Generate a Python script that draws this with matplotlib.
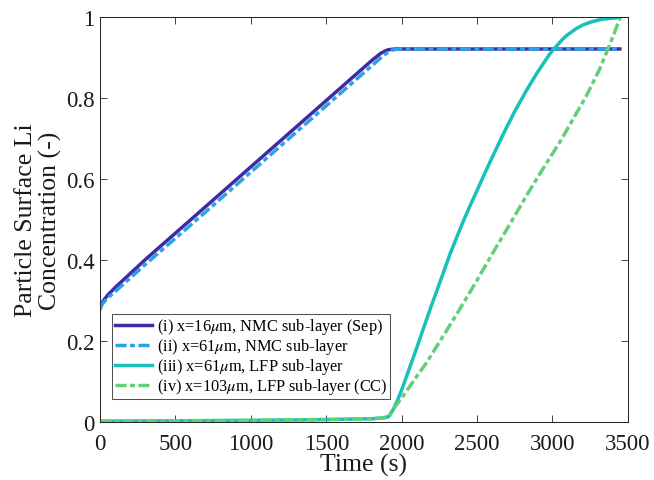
import matplotlib
matplotlib.use("Agg")
import matplotlib.pyplot as plt

plt.rcParams['font.family'] = ['Liberation Serif', 'DejaVu Serif']
plt.rcParams['mathtext.fontset'] = 'stix'

# (i) x=16um, NMC sub-layer next to separator
t_nmc_sep = [0, 10, 25, 50, 100, 300, 600, 1000, 1400, 1800, 1860, 1890,
             1910, 1930, 1960, 2000, 2500, 3000, 3447]
c_nmc_sep = [0.280, 0.291, 0.301, 0.313, 0.332, 0.401, 0.499, 0.630, 0.761,
             0.892, 0.910, 0.916, 0.919, 0.920, 0.921, 0.921, 0.921, 0.921, 0.921]

# (ii) x=61um, NMC sub-layer
t_nmc_mid = [0, 10, 25, 50, 100, 300, 600, 1000, 1400, 1800, 1870, 1910,
             1935, 1960, 2000, 2500, 3000, 3447]
c_nmc_mid = [0.280, 0.288, 0.296, 0.306, 0.322, 0.389, 0.486, 0.617, 0.748,
             0.879, 0.902, 0.913, 0.918, 0.920, 0.921, 0.921, 0.921, 0.921]

# (iii) x=61um, LFP sub-layer
t_lfp_mid = [0, 500, 1000, 1500, 1800, 1880, 1910, 1920, 1950, 1980, 2011,
             2050, 2100, 2166, 2200, 2250, 2320, 2400, 2450, 2497, 2550, 2600,
             2674, 2750, 2800, 2828, 2900, 2983, 3000, 3070, 3100, 3160, 3200,
             3250, 3300, 3340, 3400, 3447]
c_lfp_mid = [0.002, 0.003, 0.004, 0.006, 0.008, 0.010, 0.013, 0.016, 0.035,
             0.060, 0.090, 0.131, 0.183, 0.254, 0.290, 0.341, 0.414, 0.488,
             0.531, 0.569, 0.613, 0.653, 0.711, 0.767, 0.800, 0.819, 0.863,
             0.909, 0.917, 0.946, 0.956, 0.972, 0.980, 0.987, 0.992, 0.995,
             0.997, 0.999]

# (iv) x=103um, LFP sub-layer next to current collector
t_lfp_cc = [0, 500, 1000, 1500, 1800, 1880, 1915, 1944, 2000, 2080, 2166,
            2280, 2386, 2500, 2607, 2720, 2828, 2940, 3049, 3140, 3226, 3314,
            3359, 3410, 3447]
c_lfp_cc = [0.002, 0.003, 0.004, 0.006, 0.008, 0.010, 0.014, 0.032, 0.059,
            0.102, 0.147, 0.215, 0.279, 0.350, 0.419, 0.490, 0.559, 0.627,
            0.691, 0.750, 0.806, 0.872, 0.913, 0.960, 0.997]

labels = [r"(i) x=16$\mu$m, NMC sub-layer (Sep)",
          r"(ii) x=61$\mu$m, NMC sub-layer",
          r"(iii) x=61$\mu$m, LFP sub-layer",
          r"(iv) x=103$\mu$m, LFP sub-layer (CC)"]
colors = ["#3F2AA8", "#2AA2E6", "#18C0BC", "#62CF7A"]
dashdot = (0, (3.2, 1.0, 1.4, 1.0))

fig = plt.figure(figsize=(6.54, 4.81), dpi=100)
ax = fig.add_axes([0.153, 0.1206, 0.807, 0.842])

lw = 2.5
ax.plot(t_nmc_sep, c_nmc_sep, color=colors[0], lw=lw, ls='-', label=labels[0])
ax.plot(t_nmc_mid, c_nmc_mid, color=colors[1], lw=lw, ls=dashdot, label=labels[1])
ax.plot(t_lfp_mid, c_lfp_mid, color=colors[2], lw=lw, ls='-', label=labels[2])
ax.plot(t_lfp_cc, c_lfp_cc, color=colors[3], lw=lw, ls=dashdot, label=labels[3])

ax.set_xlim(0, 3500)
ax.set_ylim(0, 1)
ax.set_xticks(range(0, 3501, 500))
ax.set_yticks([0, 0.2, 0.4, 0.6, 0.8, 1])
ax.set_yticklabels(["0", "0.2", "0.4", "0.6", "0.8", "1"])
fs = 16.5
ax.tick_params(direction='in', top=True, right=True, length=5, width=0.6,
               labelsize=fs, colors='#262626', labelcolor='#1a1a1a')
ax.tick_params(axis='x', pad=8)
ax.tick_params(axis='y', pad=4)
for s in ax.spines.values():
    s.set_color('#262626')
    s.set_linewidth(0.75)

fl = 18.5
ax.set_xlabel("Time (s)", fontsize=fl, labelpad=-1, color='#1a1a1a')
ax.set_ylabel("Particle Surface Li\nConcentration (-)", fontsize=fl,
              labelpad=3, linespacing=1.1, color='#1a1a1a')

leg = ax.legend(loc='lower left', bbox_to_anchor=(0.023, 0.057),
                fontsize=11.8, frameon=True, fancybox=False, handlelength=2.3,
                borderaxespad=0, borderpad=0.15, labelspacing=0.0,
                handletextpad=0.3)
leg.get_frame().set_edgecolor('#262626')
leg.get_frame().set_linewidth(0.75)

fig.savefig("out.png", dpi=100)
